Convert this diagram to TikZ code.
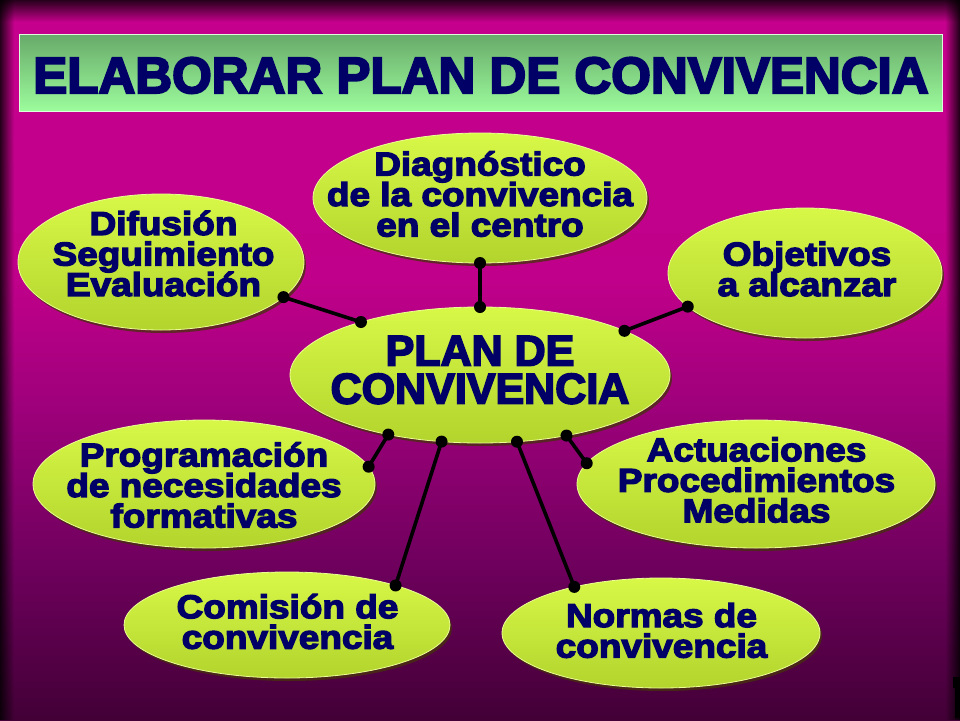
\documentclass[tikz,border=0pt]{standalone}
\usepackage{fontspec}
\setmainfont{Liberation Sans}
\newfontfamily\heavyfont[FakeBold=4]{Liberation Sans Bold}
\newfontfamily\bubfont[FakeStretch=1.12,FakeBold=4]{Liberation Sans Bold}
\usetikzlibrary{shapes.geometric}
\definecolor{navy}{RGB}{0,0,102}
\definecolor{bgA}{RGB}{198,0,141}
\definecolor{bgB}{RGB}{192,0,138}
\definecolor{bgC}{RGB}{160,0,124}
\definecolor{bgD}{RGB}{112,0,94}
\definecolor{bgE}{RGB}{66,0,54}
\definecolor{titT}{RGB}{104,170,106}
\definecolor{titB}{RGB}{156,252,156}
\definecolor{bubT}{RGB}{216,248,72}
\definecolor{bubB}{RGB}{178,212,44}
\definecolor{bubRim}{RGB}{236,255,150}
\definecolor{bubSh}{RGB}{70,50,10}
\pgfdeclareverticalshading{bgsh}{100bp}{color(0bp)=(bgE); color(25bp)=(bgE); color(36.1bp)=(bgD); color(47.2bp)=(bgC); color(55.6bp)=(bgB); color(75bp)=(bgA); color(100bp)=(bgA)}
\tikzset{
  bub/.style={ellipse, inner sep=0pt, outer sep=0pt, top color=bubT, bottom color=bubB, draw=bubRim, line width=0.8pt},
  bubshadow/.style={fill=bubSh, fill opacity=0.75},
  bubtxt/.style={font=\bubfont\fontsize{33}{30.5}\selectfont, text=navy, align=center, inner sep=0pt},
  plantxt/.style={font=\heavyfont\fontsize{43}{38}\selectfont, text=navy, align=center, inner sep=0pt},
  titletxt/.style={font=\heavyfont\fontsize{51}{51}\selectfont, text=navy, inner sep=0pt},
  connline/.style={line width=3.6pt, draw=black},
  dot/.style={fill=black}
}
\newcommand\bubble[8]{%
  \fill[bubshadow] (#2+2,#3+3) ellipse[x radius=#4, y radius=#5];
  \node[bub, minimum width=2*#4, minimum height=2*#5] (#1) at (#2,#3) {};
  \node[bubtxt] (#1-t) at (#6,#7) {#8};
}
\newcommand\conn[2]{%
  \draw[connline] (#1) -- (#2);
  \fill[dot] (#1) circle[radius=6];
  \fill[dot] (#2) circle[radius=6];
}
\begin{document}
\lineskiplimit=-100pt
\begin{tikzpicture}[x=1pt, y=-1pt]
\useasboundingbox (0,0) rectangle (960,720);
% background
\shade[shading=bgsh] (0,0) rectangle (960,720);
\foreach \i in {0,...,21}{\pgfmathsetmacro\op{0.8*(1-\i/22)}\fill[black, opacity=\op] (0,\i) rectangle (960,\i+1);}
\foreach \i in {0,...,13}{\pgfmathsetmacro\op{0.8*(1-\i/14)}\fill[black, opacity=\op] (\i,0) rectangle (\i+1,720);}
\foreach \i in {0,...,13}{\pgfmathsetmacro\op{0.8*(1-\i/14)}\fill[black, opacity=\op] (959-\i,0) rectangle (960-\i,720);}
% title
\shade[top color=titT, bottom color=titB, draw={rgb,255:red,220;green,255;blue,220}, line width=0.6pt] (19,34) rectangle (942,111);
\node[titletxt, anchor=base] (title) at (481,93) {ELABORAR PLAN DE CONVIVENCIA};
% bubbles
\bubble{diag}{480}{198}{167}{65}{480}{194}{Diagnóstico\\de la convivencia\\en el centro}
\bubble{dif}{161}{262}{143}{68}{163.5}{253.5}{Difusión\\Seguimiento\\Evaluación}
\bubble{obj}{805}{273}{137}{65}{807}{269}{Objetivos\\a alcanzar}
\bubble{prog}{204}{484}{171}{64}{204}{485}{Programación\\de necesidades\\formativas}
\bubble{act}{756}{484}{179}{64}{756.5}{480}{Actuaciones\\Procedimientos\\Medidas}
\bubble{com}{287}{625}{163}{53}{287.5}{621.5}{Comisión de\\convivencia}
\bubble{norm}{661}{633}{159}{55}{661.5}{630.5}{Normas de\\convivencia}
% central
\fill[bubshadow] (482,378) ellipse[x radius=190, y radius=68];
\node[bub, minimum width=380, minimum height=136] (plan) at (480,375) {};
\node[plantxt] (plan-t) at (480,370) {PLAN DE\\CONVIVENCIA};
% connectors
\conn{diag.south}{plan.north}
\conn{dif.-16.7}{plan.156.4}
\conn{obj.196.7}{plan.17.7}
\conn{prog.6.3}{plan.213.4}
\conn{com.20.4}{plan.240}
\conn{norm.152.4}{plan.299.6}
\conn{act.173.9}{plan.-35.9}
% cut-off slide number fragment
\fill[black] (953,677) -- (960,677) -- (960,718) -- (955,718) -- (955,688) -- (953,688) -- cycle;
\end{tikzpicture}
\end{document}
